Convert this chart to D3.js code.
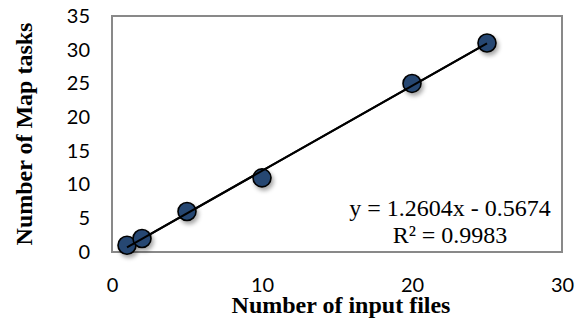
<!DOCTYPE html>
<html>
<head>
<meta charset="utf-8">
<script src="https://cdn.jsdelivr.net/npm/d3@7"></script>
<style>
  html, body { margin: 0; padding: 0; background: #fff; }
  svg { display: block; }
</style>
</head>
<body>
<svg id="chart" width="582" height="320"></svg>
<script>
// Input files vs. map tasks
const inputFiles = [1, 2, 5, 10, 20, 25];
const mapTasks = [1, 2, 6, 11, 25, 31];
const xTicks = [0, 10, 20, 30];
const yTicks = [0, 5, 10, 15, 20, 25, 30, 35];
// Linear trendline fit
const slope = 1.2604;
const intercept = -0.5674;
const rSquared = 0.9983;

const svg = d3.select("#chart");
const box = { left: 112, right: 562, top: 16, bottom: 252 };

const x = d3.scaleLinear().domain([0, 30]).range([box.left, box.right]);
const y = d3.scaleLinear().domain([0, 35]).range([box.bottom, box.top]);

// marker shadow
const defs = svg.append("defs");
const f = defs.append("filter").attr("id", "shadow")
  .attr("x", "-50%").attr("y", "-50%").attr("width", "200%").attr("height", "200%");
f.append("feDropShadow").attr("dx", 2).attr("dy", 3).attr("stdDeviation", 2)
  .attr("flood-color", "#000").attr("flood-opacity", 0.35);

// plot frame
svg.append("rect")
  .attr("x", box.left).attr("y", box.top)
  .attr("width", box.right - box.left).attr("height", box.bottom - box.top)
  .attr("fill", "none").attr("stroke", "#898989").attr("stroke-width", 2);

// axes
const tickFont = "Lato, 'Open Sans', sans-serif";
const yAxis = svg.append("g")
  .attr("transform", `translate(${box.left - 22},0)`)
  .call(d3.axisLeft(y).tickValues(yTicks).tickSize(0).tickPadding(0));
yAxis.select(".domain").remove();
yAxis.selectAll("text")
  .attr("font-family", tickFont).attr("font-size", 20).attr("fill", "#000");

const xAxis = svg.append("g")
  .attr("transform", `translate(0,${box.bottom + 26})`)
  .call(d3.axisBottom(x).tickValues(xTicks).tickSize(0).tickPadding(0));
xAxis.select(".domain").remove();
xAxis.selectAll("text")
  .attr("font-family", tickFont).attr("font-size", 20).attr("fill", "#000");

// trendline over the data range
const xExt = d3.extent(inputFiles);
const line = d3.line().x(d => x(d)).y(d => y(slope * d + intercept));
svg.append("path")
  .datum(xExt)
  .attr("d", line)
  .attr("fill", "none").attr("stroke", "#000").attr("stroke-width", 2);

// data points
const pts = inputFiles.map((v, i) => ({ x: v, y: mapTasks[i] }));
svg.append("g").selectAll("circle")
  .data(pts)
  .join("circle")
  .attr("cx", d => x(d.x)).attr("cy", d => y(d.y)).attr("r", 9)
  .attr("fill", "#254672").attr("stroke", "#000").attr("stroke-width", 1.6)
  .attr("filter", "url(#shadow)");

// redraw trendline over markers (it runs on top of them)
svg.append("path")
  .datum(xExt)
  .attr("d", line)
  .attr("fill", "none").attr("stroke", "#000").attr("stroke-width", 2);

// equation label
const serif = "'Liberation Serif', 'Times New Roman', serif";
const fmt = v => v.toFixed(4);
const eq = svg.append("text")
  .attr("font-family", serif).attr("font-size", 24).attr("fill", "#000")
  .attr("text-anchor", "middle");
eq.append("tspan").attr("x", 450).attr("y", 216)
  .text(`y = ${fmt(slope)}x ${intercept < 0 ? "-" : "+"} ${fmt(Math.abs(intercept))}`);
eq.append("tspan").attr("x", 450).attr("y", 243)
  .text(`R² = ${fmt(rSquared)}`);

// axis titles
svg.append("text")
  .attr("x", 341).attr("y", 313)
  .attr("text-anchor", "middle")
  .attr("font-family", serif).attr("font-size", 24).attr("font-weight", "bold")
  .text("Number of input files");

svg.append("text")
  .attr("transform", "translate(32,134) rotate(-90)")
  .attr("text-anchor", "middle")
  .attr("font-family", serif).attr("font-size", 24).attr("font-weight", "bold")
  .text("Number of Map tasks");
</script>
</body>
</html>
